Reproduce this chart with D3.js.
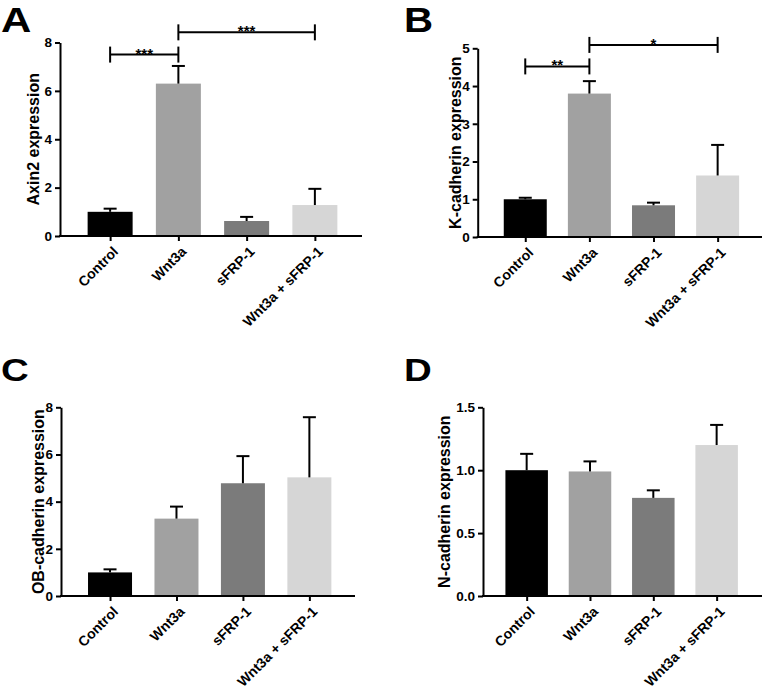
<!DOCTYPE html>
<html>
<head>
<meta charset="utf-8">
<script src="https://cdn.jsdelivr.net/npm/d3@7"></script>
<style>
  html, body { margin: 0; padding: 0; background: #fff; }
  svg { display: block; font-family: "Liberation Sans", Arial, sans-serif; }
</style>
</head>
<body>
<svg id="chart" width="762" height="690"></svg>
<script>
// ---------- data ----------
const categories = ["Control", "Wnt3a", "sFRP-1", "Wnt3a + sFRP-1"];
const barColors = ["#000000", "#a1a1a1", "#7b7b7b", "#d6d6d6"];

const axin2Mean = [1.0, 6.3, 0.62, 1.28];
const axin2Sem  = [0.13, 0.73, 0.17, 0.67];
const axin2Ticks = [0, 2, 4, 6, 8];

const kcadMean = [1.0, 3.8, 0.84, 1.63];
const kcadSem  = [0.04, 0.33, 0.07, 0.81];
const kcadTicks = [0, 1, 2, 3, 4, 5];

const obcadMean = [1.0, 3.28, 4.78, 5.03];
const obcadSem  = [0.13, 0.51, 1.15, 2.55];
const obcadTicks = [0, 2, 4, 6, 8];

const ncadMean = [1.0, 0.99, 0.78, 1.2];
const ncadSem  = [0.13, 0.08, 0.06, 0.16];
const ncadTicks = [0, 0.5, 1.0, 1.5];

// significance brackets: [fromIndex, toIndex, yValue, label]
const axin2Sig = [[0, 1, 7.5, "***"], [1, 3, 8.42, "***"]];
const kcadSig  = [[0, 1, 4.52, "**"], [1, 3, 5.09, "*"]];

// ---------- layout ----------
const panels = [
  { letter: "A", lx: 1,   ly: 32,  lscale: 1.2, lsize: 35,
    title: "Axin2 expression", mean: axin2Mean, sem: axin2Sem, ticks: axin2Ticks, fmt: d3.format("d"), sig: axin2Sig,
    ax: 60, y0: 236, y1: 42.5, xr: [76, 349], xEnd: 362, bw: 45, labX: 33 },
  { letter: "B", lx: 404, ly: 32,  lscale: 1.15, lsize: 35,
    title: "K-cadherin expression", mean: kcadMean, sem: kcadSem, ticks: kcadTicks, fmt: d3.format("d"), sig: kcadSig,
    ax: 477.7, y0: 237, y1: 48.3, xr: [493.2, 749.7], xEnd: 762, bw: 43, labX: 455 },
  { letter: "C", lx: 1,   ly: 381, lscale: 1.2, lsize: 32,
    title: "OB-cadherin expression", mean: obcadMean, sem: obcadSem, ticks: obcadTicks, fmt: d3.format("d"), sig: [],
    ax: 61, y0: 596, y1: 407.3, xr: [76.8, 342.6], xEnd: 355, bw: 44, labX: 38 },
  { letter: "D", lx: 404, ly: 381, lscale: 1.2, lsize: 32,
    title: "N-cadherin expression", mean: ncadMean, sem: ncadSem, ticks: ncadTicks, fmt: d3.format(".1f"), sig: [],
    ax: 483, y0: 596, y1: 407.3, xr: [495, 748.3], xEnd: 762, bw: 42.5, labX: 444 }
];

const svg = d3.select("#chart");

panels.forEach(p => {
  const g = svg.append("g");
  const y = d3.scaleLinear().domain([0, d3.max(p.ticks)]).range([p.y0, p.y1]);
  const x = d3.scalePoint().domain(categories).range(p.xr).padding(0.5);

  // panel letter
  svg.append("text")
    .attr("transform", `translate(${p.lx},${p.ly}) scale(${p.lscale},1)`)
    .attr("font-size", p.lsize).attr("font-weight", "bold").attr("fill", "#000")
    .text(p.letter);

  // bars
  g.selectAll("rect.bar").data(categories).enter().append("rect")
    .attr("class", "bar")
    .attr("x", d => x(d) - p.bw / 2)
    .attr("width", p.bw)
    .attr("y", (d, i) => y(p.mean[i]))
    .attr("height", (d, i) => y(0) - y(p.mean[i]))
    .attr("fill", (d, i) => barColors[i]);

  // error bars (upper only)
  const eb = g.selectAll("g.err").data(categories).enter().append("g").attr("class", "err");
  eb.append("line")
    .attr("x1", d => x(d)).attr("x2", d => x(d))
    .attr("y1", (d, i) => y(p.mean[i]))
    .attr("y2", (d, i) => y(p.mean[i] + p.sem[i]))
    .attr("stroke", "#000").attr("stroke-width", 2);
  eb.append("line")
    .attr("x1", d => x(d) - 6.5).attr("x2", d => x(d) + 6.5)
    .attr("y1", (d, i) => y(p.mean[i] + p.sem[i]))
    .attr("y2", (d, i) => y(p.mean[i] + p.sem[i]))
    .attr("stroke", "#000").attr("stroke-width", 2);

  // y axis
  const yAxis = d3.axisLeft(y).tickValues(p.ticks).tickFormat(p.fmt).tickSize(5).tickSizeOuter(0).tickPadding(3);
  const yg = g.append("g").attr("transform", `translate(${p.ax},0)`).call(yAxis);
  yg.select(".domain").attr("stroke-width", 2);
  yg.selectAll(".tick line").attr("stroke-width", 2);
  yg.selectAll(".tick text").attr("font-size", 13.5).attr("font-weight", "bold").attr("fill", "#000")
    .attr("font-family", "Liberation Sans, Arial, sans-serif");

  // x axis
  const xAxis = d3.axisBottom(x).tickSize(5).tickSizeOuter(0);
  const xg = g.append("g").attr("transform", `translate(0,${p.y0})`).call(xAxis);
  xg.select(".domain").remove();
  xg.append("line").attr("x1", p.ax - 1).attr("x2", p.xEnd).attr("y1", 0).attr("y2", 0)
    .attr("stroke", "#000").attr("stroke-width", 2);
  xg.selectAll(".tick line").attr("stroke-width", 2);
  xg.selectAll(".tick text")
    .attr("font-size", 14).attr("font-weight", "bold").attr("fill", "#000")
    .attr("font-family", "Liberation Sans, Arial, sans-serif")
    .attr("x", 0).attr("y", 0).attr("dy", "0.35em")
    .attr("transform", "translate(5,13) rotate(-45)")
    .style("text-anchor", "end");

  // y label
  svg.append("text")
    .attr("transform", `translate(${p.labX},${(p.y0 + p.y1) / 2}) rotate(-90)`)
    .attr("text-anchor", "middle").attr("dy", "0.35em")
    .attr("font-size", 16).attr("font-weight", "bold").attr("fill", "#000")
    .text(p.title);

  // significance brackets
  p.sig.forEach(s => {
    const xa = x(categories[s[0]]), xb = x(categories[s[1]]), yy = y(s[2]);
    const bg = g.append("g");
    bg.append("line").attr("x1", xa).attr("x2", xb).attr("y1", yy).attr("y2", yy)
      .attr("stroke", "#000").attr("stroke-width", 2);
    [xa, xb].forEach(xx => bg.append("line").attr("x1", xx).attr("x2", xx)
      .attr("y1", yy - 8).attr("y2", yy + 8).attr("stroke", "#000").attr("stroke-width", 2));
    bg.append("text").attr("x", (xa + xb) / 2).attr("y", yy + 4)
      .attr("text-anchor", "middle").attr("font-size", 15).attr("font-weight", "bold")
      .text(s[3]);
  });
});
</script>
</body>
</html>
